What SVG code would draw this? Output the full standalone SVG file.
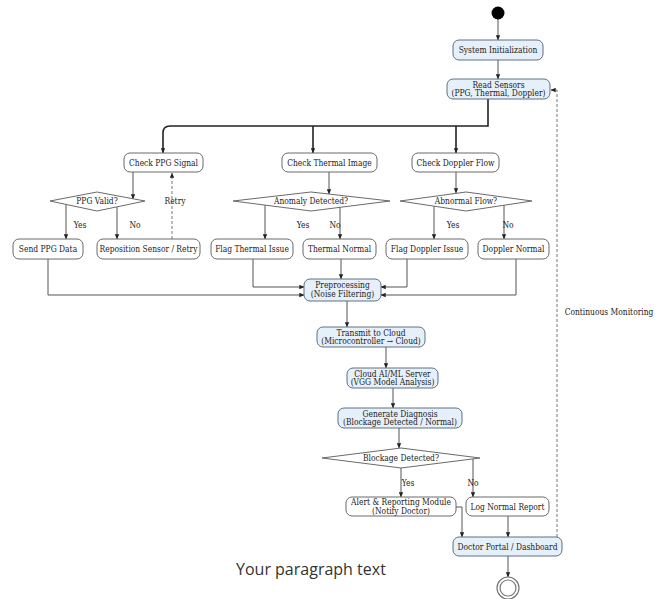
<svg xmlns="http://www.w3.org/2000/svg" width="663" height="599" viewBox="0 0 663 599">
<style>
text{font-family:"DejaVu Serif","Liberation Serif",serif;font-stretch:condensed;font-size:8.4px;fill:#222;text-anchor:middle}
.blue{fill:#e6f0fa;stroke:#5f6f80;stroke-width:1}
.white{fill:#fff;stroke:#6a6a6a;stroke-width:1}
.dia{fill:#fff;stroke:#6a6a6a;stroke-width:1}
.c{fill:none;stroke:#555;stroke-width:1}
.bold{fill:none;stroke:#222;stroke-width:1.6}
.dash{fill:none;stroke:#777;stroke-width:1;stroke-dasharray:3,2}
.para{font-family:"Open Sans","Noto Sans",sans-serif;font-stretch:normal;font-size:16px;fill:#333;text-anchor:start}
</style>
<defs>
<marker id="a" viewBox="0 0 8 8" refX="7.5" refY="4" markerWidth="5" markerHeight="5" orient="auto" markerUnits="userSpaceOnUse"><path d="M0,0.5 L8,4 L0,7.5z" fill="#222"/></marker>
</defs>
<rect width="663" height="599" fill="#fff"/>
<g id="connectors">
<path class="c" d="M498,19 V40" marker-end="url(#a)"/>
<path class="c" d="M498,60 V79" marker-end="url(#a)"/>
<path class="bold" d="M488,99 V126 H170 Q163,126 163,133 V153" marker-end="url(#a)"/>
<path class="bold" d="M313,126 V153" marker-end="url(#a)"/>
<path class="bold" d="M456,126 V153" marker-end="url(#a)"/>
<path class="c" d="M133,172 V199" marker-end="url(#a)"/>
<path class="c" d="M329,172 V194" marker-end="url(#a)"/>
<path class="c" d="M456,172 V193" marker-end="url(#a)"/>
<path class="c" d="M66,204 V239" marker-end="url(#a)"/>
<path class="c" d="M117,207 V239" marker-end="url(#a)"/>
<path class="dash" d="M172,239 V173" marker-end="url(#a)"/>
<path class="c" d="M265,205 V239" marker-end="url(#a)"/>
<path class="c" d="M340,207 V239" marker-end="url(#a)"/>
<path class="c" d="M434,206 V239" marker-end="url(#a)"/>
<path class="c" d="M504,205 V239" marker-end="url(#a)"/>
<path class="c" d="M48,259 V295 H304" marker-end="url(#a)"/>
<path class="c" d="M253,259 V287 H304" marker-end="url(#a)"/>
<path class="c" d="M341,259 V279" marker-end="url(#a)"/>
<path class="c" d="M407,259 V287 H381" marker-end="url(#a)"/>
<path class="c" d="M516,259 V295 H381" marker-end="url(#a)"/>
<path class="c" d="M347,301 V327" marker-end="url(#a)"/>
<path class="c" d="M386,347 V368" marker-end="url(#a)"/>
<path class="c" d="M393,388 V408" marker-end="url(#a)"/>
<path class="c" d="M399,428 V448" marker-end="url(#a)"/>
<path class="c" d="M401,468 V497" marker-end="url(#a)"/>
<path class="c" d="M473,459 V497" marker-end="url(#a)"/>
<path class="c" d="M456,507 H462 V537" marker-end="url(#a)"/>
<path class="c" d="M508,516 V537" marker-end="url(#a)"/>
<path class="c" d="M508,556 V577" marker-end="url(#a)"/>
<path class="dash" d="M557,537 V90 H551" marker-end="url(#a)"/>
<text x="80" y="228">Yes</text>
<text x="135" y="228">No</text>
<text x="175" y="204">Retry</text>
<text x="303" y="228">Yes</text>
<text x="335" y="228">No</text>
<text x="453" y="228">Yes</text>
<text x="508" y="228">No</text>
<text x="408" y="486">Yes</text>
<text x="473" y="486">No</text>
<text x="609" y="315">Continuous Monitoring</text>
</g>
<g id="start"><circle cx="498" cy="13" r="6.5" fill="#000"/></g>
<g id="sysinit"><rect class="blue" x="453" y="40" width="90" height="20" rx="6"/><text x="498" y="53">System Initialization</text></g>
<g id="readsensors"><rect class="blue" x="447" y="79" width="103" height="20" rx="6"/><text x="498.5" y="87.5">Read Sensors</text><text x="498.5" y="96">(PPG, Thermal, Doppler)</text></g>
<g id="checkppg"><rect class="white" x="124" y="153" width="79" height="19" rx="6"/><text x="163.5" y="165.5">Check PPG Signal</text></g>
<g id="checkthermal"><rect class="white" x="282" y="153" width="95" height="19" rx="6"/><text x="329.5" y="165.5">Check Thermal Image</text></g>
<g id="checkdoppler"><rect class="white" x="412" y="153" width="87" height="19" rx="6"/><text x="455.5" y="165.5">Check Doppler Flow</text></g>
<g id="ppgvalid"><polygon class="dia" points="50,201 97,192 145,201 97,211"/><text x="97" y="204">PPG Valid?</text></g>
<g id="anomaly"><polygon class="dia" points="233,201 311,192 390,201 311,211"/><text x="311" y="204">Anomaly Detected?</text></g>
<g id="abnormal"><polygon class="dia" points="400,201 466,192 532,201 466,211"/><text x="466" y="204">Abnormal Flow?</text></g>
<g id="sendppg"><rect class="white" x="13" y="239" width="70" height="20" rx="6"/><text x="48" y="252">Send PPG Data</text></g>
<g id="reposition"><rect class="white" x="97" y="239" width="103" height="20" rx="6"/><text x="148.5" y="252">Reposition Sensor / Retry</text></g>
<g id="flagthermal"><rect class="white" x="211" y="239" width="82" height="20" rx="6"/><text x="252" y="252">Flag Thermal Issue</text></g>
<g id="thermalnormal"><rect class="white" x="303" y="239" width="73" height="20" rx="6"/><text x="339.5" y="252">Thermal Normal</text></g>
<g id="flagdoppler"><rect class="white" x="386" y="239" width="82" height="20" rx="6"/><text x="427" y="252">Flag Doppler Issue</text></g>
<g id="dopplernormal"><rect class="white" x="478" y="239" width="71" height="20" rx="6"/><text x="513.5" y="252">Doppler Normal</text></g>
<g id="preprocessing"><rect class="blue" x="304" y="279" width="77" height="22" rx="6"/><text x="342.5" y="288">Preprocessing</text><text x="342.5" y="297">(Noise Filtering)</text></g>
<g id="transmit"><rect class="blue" x="317" y="327" width="108" height="20" rx="6"/><text x="371" y="335.5">Transmit to Cloud</text><text x="371" y="344">(Microcontroller → Cloud)</text></g>
<g id="cloudai"><rect class="blue" x="347" y="368" width="91" height="20" rx="6"/><text x="392.5" y="376.5">Cloud AI/ML Server</text><text x="392.5" y="385">(VGG Model Analysis)</text></g>
<g id="diagnosis"><rect class="blue" x="338" y="408" width="124" height="20" rx="6"/><text x="400" y="416.5">Generate Diagnosis</text><text x="400" y="425">(Blockage Detected / Normal)</text></g>
<g id="blockage"><polygon class="dia" points="322,458 401,448 480,458 401,468"/><text x="401" y="461">Blockage Detected?</text></g>
<g id="alert"><rect class="white" x="346" y="497" width="110" height="19" rx="6"/><text x="401" y="505">Alert &amp; Reporting Module</text><text x="401" y="513.5">(Notify Doctor)</text></g>
<g id="lognormal"><rect class="white" x="466" y="497" width="83" height="19" rx="6"/><text x="507.5" y="509.5">Log Normal Report</text></g>
<g id="doctor"><rect class="blue" x="453" y="537" width="109" height="19" rx="6"/><text x="507.5" y="549.5">Doctor Portal / Dashboard</text></g>
<g id="end"><circle cx="508" cy="588" r="11" fill="#fff" stroke="#777" stroke-width="1.2"/><circle cx="508" cy="588" r="8" fill="#fff" stroke="#777" stroke-width="1.2"/></g>
<text class="para" x="236" y="575">Your paragraph text</text>
</svg>
